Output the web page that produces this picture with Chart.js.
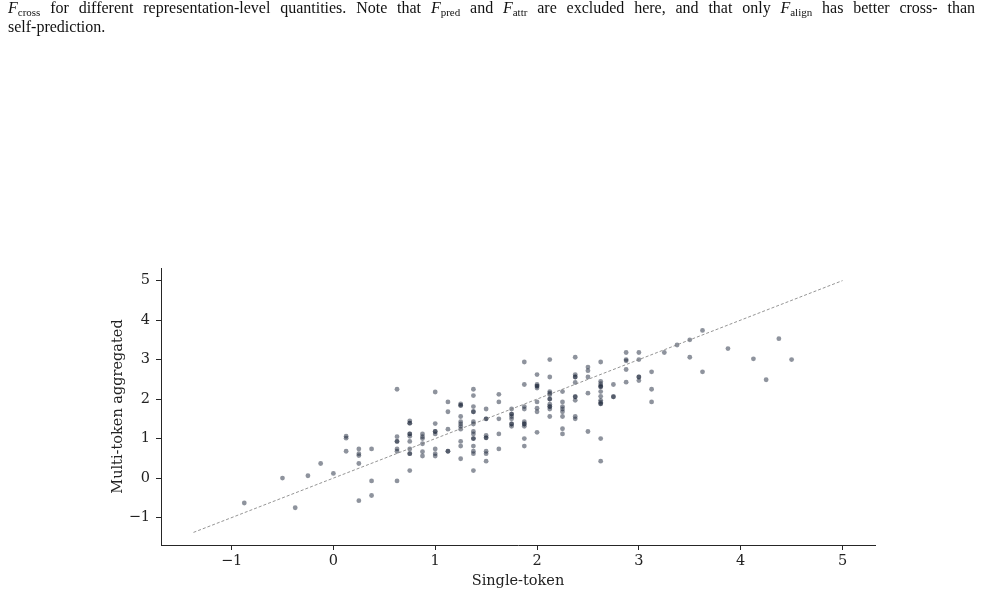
<!DOCTYPE html>
<html>
<head>
<meta charset="utf-8">
<script src="https://cdn.jsdelivr.net/npm/chart.js@4/dist/chart.umd.min.js"></script>
<style>
  html, body { margin: 0; padding: 0; background: #fff; width: 984px; height: 613px; overflow: hidden; }
  #wrap { position: relative; width: 984px; height: 613px; }
  #c { position: absolute; left: 0; top: 0; }
  .cap {
    position: absolute; left: 8px; width: 967px;
    font-family: "Liberation Serif", "Times New Roman", serif;
    font-size: 16px; line-height: 19px; color: #111; z-index: 2; white-space: nowrap;
  }
  #cap1 { top: -2px; text-align: justify; text-align-last: justify; white-space: normal; }
  #cap2 { top: 17px; }
  .cap i { font-style: italic; }
  .cap sub { font-size: 11px; vertical-align: -3px; line-height: 0; }
</style>
</head>
<body>
<div id="wrap">
  <div class="cap" id="cap1"><i>F</i><sub>cross</sub> for different representation-level quantities. Note that <i>F</i><sub>pred</sub> and <i>F</i><sub>attr</sub> are excluded here, and that only <i>F</i><sub>align</sub> has better cross- than</div>
  <div class="cap" id="cap2">self-prediction.</div>
  <canvas id="c" width="984" height="613"></canvas>
</div>
<script>
// Single-token values (x) shared by each column of points
const singleTokenCols = [
  -0.875, -0.5, -0.375, -0.25, -0.125, 0, 0.125, 0.25, 0.375,
  0.625, 0.75, 0.875, 1.0, 1.125, 1.25, 1.375, 1.5, 1.625, 1.75, 1.875,
  2.0, 2.125, 2.25, 2.375, 2.5, 2.625, 2.75, 2.875, 3.0, 3.125,
  3.25, 3.375, 3.5, 3.625, 3.875, 4.125, 4.25, 4.375, 4.5
];
// Multi-token aggregated values (y) for each column
const multiTokenCols = [
  [-0.63], [0.0], [-0.75], [0.06], [0.37], [0.12],
  [1.06, 1.01, 0.68],
  [0.74, 0.62, 0.57, 0.37, -0.57],
  [0.74, -0.07, -0.44],
  [2.25, 1.05, 0.93, 0.93, 0.74, 0.68, -0.07],
  [1.45, 1.39, 1.39, 1.12, 1.12, 1.06, 0.93, 0.74, 0.62, 0.62, 0.19],
  [1.12, 1.05, 1.0, 0.87, 0.67, 0.56],
  [2.18, 1.38, 1.18, 1.18, 1.12, 0.74, 0.62, 0.56],
  [1.93, 1.68, 1.24, 0.68, 0.68],
  [1.88, 1.84, 1.84, 1.56, 1.43, 1.37, 1.31, 1.24, 0.93, 0.81, 0.49],
  [2.25, 2.09, 1.81, 1.68, 1.68, 1.43, 1.37, 1.18, 1.12, 1.0, 1.0, 0.81, 0.68, 0.62, 0.19],
  [1.75, 1.50, 1.50, 1.08, 1.02, 1.02, 0.68, 0.62, 0.43],
  [2.12, 1.93, 1.50, 1.12, 0.74],
  [1.75, 1.62, 1.62, 1.56, 1.50, 1.37, 1.37, 1.31],
  [2.94, 2.37, 1.81, 1.75, 1.43, 1.37, 1.37, 1.31, 1.0, 0.81],
  [2.62, 2.37, 2.33, 2.33, 2.28, 1.93, 1.77, 1.68, 1.16],
  [3.0, 2.56, 2.19, 2.15, 2.11, 2.0, 2.0, 1.87, 1.81, 1.81, 1.75, 1.56],
  [2.19, 1.93, 1.81, 1.75, 1.68, 1.56, 1.25, 1.12],
  [3.06, 2.62, 2.56, 2.56, 2.42, 2.06, 2.06, 1.97, 1.56, 1.50],
  [2.81, 2.72, 2.56, 2.15, 1.18],
  [2.94, 2.45, 2.39, 2.34, 2.31, 2.31, 2.19, 2.07, 1.97, 1.92, 1.88, 1.88, 1.0, 0.43],
  [2.37, 2.06, 2.06],
  [3.18, 3.0, 2.97, 2.75, 2.43],
  [3.18, 3.0, 2.56, 2.56, 2.47],
  [2.69, 2.25, 1.93],
  [3.18], [3.37], [3.50, 3.06], [3.74, 2.69], [3.28], [3.02], [2.49], [3.53], [3.0]
];
// Identity reference line (y = x)
const diagonalEnds = [-1.374, 5];
const xTickValues = [-1, 0, 1, 2, 3, 4, 5];
const yTickValues = [-1, 0, 1, 2, 3, 4, 5];
const xLabel = 'Single-token';
const yLabel = 'Multi-token aggregated';

const points = [];
singleTokenCols.forEach((x, i) => multiTokenCols[i].forEach(y => points.push({x, y})));
const diagPoints = diagonalEnds.map(v => ({x: v, y: v}));

const fmt = v => (v < 0 ? '\u2212' + Math.abs(v) : String(v));
const tickFont = { family: '"DejaVu Serif", serif', size: 14.5 };
const axisColor = '#262626';

function axis(ticksArr, titleText, isX) {
  return {
    type: 'linear',
    min: -1.693, max: 5.319,
    afterBuildTicks: s => { s.ticks = ticksArr.map(v => ({ value: v })); },
    afterFit: s => { if (isX) s.height = 68; else s.width = 161; },
    ticks: { callback: fmt, font: tickFont, color: '#222', padding: isX ? 3 : 6, autoSkip: false, maxRotation: 0 },
    grid: { display: true, drawOnChartArea: false, drawTicks: true, tickLength: 5, tickColor: axisColor, tickWidth: 1 },
    border: { display: true, color: axisColor, width: 1 },
    title: {
      display: true, text: titleText, color: '#222', font: tickFont,
      padding: isX ? { top: 0, bottom: 23.3 } : { top: 109.8, bottom: 0 }
    }
  };
}

new Chart(document.getElementById('c'), {
  type: 'scatter',
  data: {
    datasets: [
      {
        type: 'line', data: diagPoints, borderColor: '#7a7a7a', borderWidth: 0.8,
        borderDash: [3, 2], pointRadius: 0, fill: false, showLine: true
      },
      {
        data: points, backgroundColor: 'rgba(30,40,60,0.5)', borderWidth: 0,
        pointRadius: 2.4, pointHoverRadius: 2.4
      }
    ]
  },
  options: {
    responsive: false, animation: false, devicePixelRatio: 1,
    layout: { padding: { top: 268, right: 109, left: 0, bottom: 0 } },
    plugins: { legend: { display: false }, tooltip: { enabled: false } },
    scales: { x: axis(xTickValues, xLabel, true), y: axis(yTickValues, yLabel, false) }
  }
});
</script>
</body>
</html>
